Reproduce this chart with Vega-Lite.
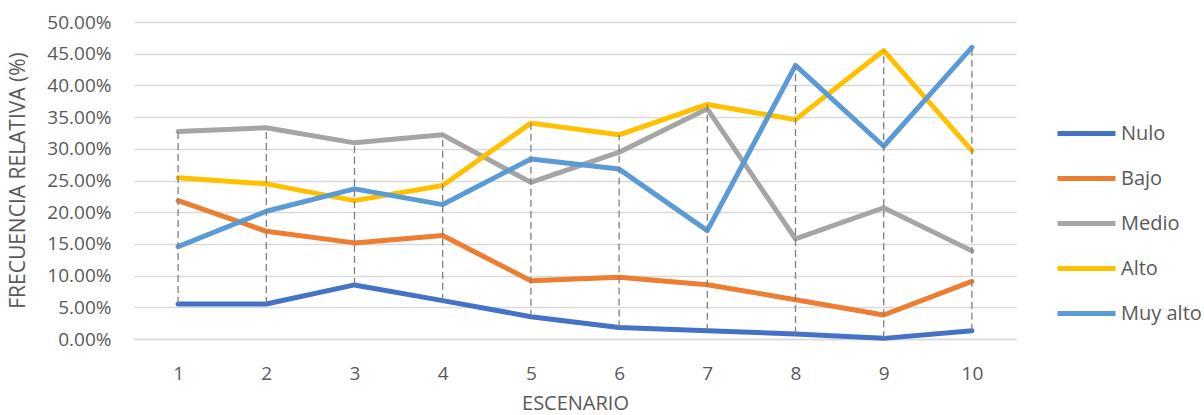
{
  "$schema": "https://vega.github.io/schema/vega-lite/v6.json",
  "autosize": {"type": "none"},
  "padding": {"left": 134, "top": 22, "right": 188, "bottom": 76},
  "width": 882,
  "height": 317,
  "background": "white",
  "config": {
    "view": {"stroke": null},
    "font": "Open Sans",
    "axis": {"labelColor": "#595959", "titleColor": "#595959", "titleFontWeight": "normal"},
    "axisY": {"tickCount": 10, "labelOverlap": false, "labelFontSize": 19, "format": ".2%"}
  },
  "data": {
    "values": [
      {"serie": "Nulo", "escenario": "1", "valor": 0.0553},
      {"serie": "Nulo", "escenario": "2", "valor": 0.0553},
      {"serie": "Nulo", "escenario": "3", "valor": 0.0853},
      {"serie": "Nulo", "escenario": "4", "valor": 0.0605},
      {"serie": "Nulo", "escenario": "5", "valor": 0.0352},
      {"serie": "Nulo", "escenario": "6", "valor": 0.0183},
      {"serie": "Nulo", "escenario": "7", "valor": 0.0131},
      {"serie": "Nulo", "escenario": "8", "valor": 0.0079},
      {"serie": "Nulo", "escenario": "9", "valor": 0.0010},
      {"serie": "Nulo", "escenario": "10", "valor": 0.0131},
      {"serie": "Bajo", "escenario": "1", "valor": 0.2183},
      {"serie": "Bajo", "escenario": "2", "valor": 0.1699},
      {"serie": "Bajo", "escenario": "3", "valor": 0.1516},
      {"serie": "Bajo", "escenario": "4", "valor": 0.1631},
      {"serie": "Bajo", "escenario": "5", "valor": 0.0920},
      {"serie": "Bajo", "escenario": "6", "valor": 0.0973},
      {"serie": "Bajo", "escenario": "7", "valor": 0.0857},
      {"serie": "Bajo", "escenario": "8", "valor": 0.0620},
      {"serie": "Bajo", "escenario": "9", "valor": 0.0379},
      {"serie": "Bajo", "escenario": "10", "valor": 0.0910},
      {"serie": "Medio", "escenario": "1", "valor": 0.3273},
      {"serie": "Medio", "escenario": "2", "valor": 0.3331},
      {"serie": "Medio", "escenario": "3", "valor": 0.3094},
      {"serie": "Medio", "escenario": "4", "valor": 0.3220},
      {"serie": "Medio", "escenario": "5", "valor": 0.2470},
      {"serie": "Medio", "escenario": "6", "valor": 0.2947},
      {"serie": "Medio", "escenario": "7", "valor": 0.3630},
      {"serie": "Medio", "escenario": "8", "valor": 0.1580},
      {"serie": "Medio", "escenario": "9", "valor": 0.2070},
      {"serie": "Medio", "escenario": "10", "valor": 0.1390},
      {"serie": "Alto", "escenario": "1", "valor": 0.2542},
      {"serie": "Alto", "escenario": "2", "valor": 0.2447},
      {"serie": "Alto", "escenario": "3", "valor": 0.2183},
      {"serie": "Alto", "escenario": "4", "valor": 0.2420},
      {"serie": "Alto", "escenario": "5", "valor": 0.3405},
      {"serie": "Alto", "escenario": "6", "valor": 0.3220},
      {"serie": "Alto", "escenario": "7", "valor": 0.3700},
      {"serie": "Alto", "escenario": "8", "valor": 0.3460},
      {"serie": "Alto", "escenario": "9", "valor": 0.4550},
      {"serie": "Alto", "escenario": "10", "valor": 0.2970},
      {"serie": "Muy alto", "escenario": "1", "valor": 0.1457},
      {"serie": "Muy alto", "escenario": "2", "valor": 0.2015},
      {"serie": "Muy alto", "escenario": "3", "valor": 0.2368},
      {"serie": "Muy alto", "escenario": "4", "valor": 0.2120},
      {"serie": "Muy alto", "escenario": "5", "valor": 0.2840},
      {"serie": "Muy alto", "escenario": "6", "valor": 0.2680},
      {"serie": "Muy alto", "escenario": "7", "valor": 0.1710},
      {"serie": "Muy alto", "escenario": "8", "valor": 0.4315},
      {"serie": "Muy alto", "escenario": "9", "valor": 0.3040},
      {"serie": "Muy alto", "escenario": "10", "valor": 0.4600}
    ]
  },
  "encoding": {
    "x": {
      "field": "escenario", "type": "ordinal", "sort": null,
      "scale": {"type": "point", "padding": 0.5},
      "axis": {
        "title": "ESCENARIO", "labelAngle": 0, "ticks": false, "tickSize": 0,
        "domainColor": "#d9d9d9", "domainWidth": 1.3,
        "labelFontSize": 19, "labelPadding": 40, "labelBaseline": "alphabetic",
        "titleFontSize": 20, "titleY": 70, "titleBaseline": "alphabetic"
      }
    }
  },
  "layer": [
    {
      "mark": {"type": "line", "strokeWidth": 5, "strokeCap": "round", "strokeJoin": "round"},
      "encoding": {
        "y": {
          "field": "valor", "type": "quantitative",
          "scale": {"domain": [0, 0.5], "nice": false},
          "axis": {
            "title": "FRECUENCIA RELATIVA (%)",
            "domain": false, "ticks": false, "tickSize": 0,
            "gridColor": "#d9d9d9", "gridWidth": 1.3,
            "labelPadding": 23,
            "titleFontSize": 21, "titleX": -116, "titleY": 158, "titleAngle": -90,
            "titleAlign": "center", "titleBaseline": "middle"
          }
        },
        "color": {
          "field": "serie", "type": "nominal",
          "scale": {
            "domain": ["Nulo", "Bajo", "Medio", "Alto", "Muy alto"],
            "range": ["#4472C4", "#ED7D31", "#A5A5A5", "#FFC000", "#5B9BD5"]
          },
          "legend": {
            "title": null, "orient": "none", "legendX": 921, "legendY": 80,
            "symbolType": "stroke", "symbolSize": 3364, "symbolStrokeWidth": 5,
            "labelFontSize": 20, "labelColor": "#595959", "labelOffset": 3,
            "rowPadding": 3, "padding": 0
          }
        }
      }
    },
    {
      "mark": {"type": "rule", "color": "#7f7f7f", "strokeWidth": 1.3, "strokeDash": [7, 4]},
      "encoding": {
        "y": {"aggregate": "min", "field": "valor", "type": "quantitative"},
        "y2": {"aggregate": "max", "field": "valor"}
      }
    }
  ]
}
